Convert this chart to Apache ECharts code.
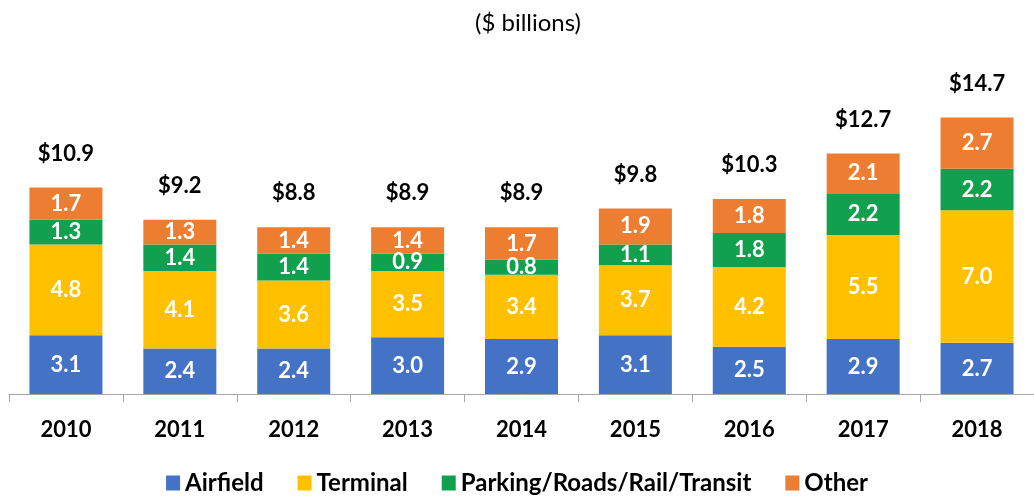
<!DOCTYPE html>
<html>
<head>
<meta charset="utf-8">
<script src="https://cdn.jsdelivr.net/npm/echarts@6/dist/echarts.min.js"></script>
<style>
  html, body { margin: 0; padding: 0; background: #fff; }
  #chart { width: 1034px; height: 498px; }
</style>
</head>
<body>
<div id="chart"></div>
<script>
// 数据
var years = ["2010", "2011", "2012", "2013", "2014", "2015", "2016", "2017", "2018"];
var airfield = [3.1, 2.4, 2.4, 3.0, 2.9, 3.1, 2.5, 2.9, 2.7];
var terminal = [4.8, 4.1, 3.6, 3.5, 3.4, 3.7, 4.2, 5.5, 7.0];
var parking = [1.3, 1.4, 1.4, 0.9, 0.8, 1.1, 1.8, 2.2, 2.2];
var other = [1.7, 1.3, 1.4, 1.4, 1.7, 1.9, 1.8, 2.1, 2.7];
var totals = ["$10.9", "$9.2", "$8.8", "$8.9", "$8.9", "$9.8", "$10.3", "$12.7", "$14.7"];

var font = "Lato";

function seg(name, data, color) {
  return {
    name: name,
    type: "bar",
    stack: "total",
    barWidth: 73,
    data: data,
    itemStyle: { color: color },
    label: {
      show: true,
      position: "inside",
      color: "#fff",
      fontFamily: font,
      fontWeight: "bold",
      fontSize: 22,
      formatter: function (p) { return p.value.toFixed(1); }
    }
  };
}

var chart = echarts.init(document.getElementById("chart"));
chart.setOption({
  animation: false,
  title: {
    text: "($ billions)",
    left: 470,
    top: 6,
    textStyle: { fontFamily: font, fontWeight: "normal", fontSize: 24, color: "#000" }
  },
  legend: {
    data: ["Airfield", "Terminal", "Parking/Roads/Rail/Transit", "Other"],
    top: 466,
    left: "center",
    icon: "rect",
    itemWidth: 14,
    itemHeight: 15,
    itemGap: 34,
    textStyle: { fontFamily: font, fontWeight: "bold", fontSize: 24, color: "#000" }
  },
  grid: { left: 9, width: 1032, top: 91, bottom: 104 },
  xAxis: {
    type: "category",
    data: years,
    axisLine: { lineStyle: { color: "#a6a6a6", width: 1 } },
    axisTick: { show: true, length: 8, lineStyle: { color: "#a6a6a6" } },
    axisLabel: { margin: 25, color: "#000", fontFamily: font, fontWeight: "bold", fontSize: 22 }
  },
  yAxis: { type: "value", min: 0, max: 16, show: false },
  series: [
    seg("Airfield", airfield, "#4472C4"),
    seg("Terminal", terminal, "#FFC000"),
    seg("Parking/Roads/Rail/Transit", parking, "#11A04E"),
    seg("Other", other, "#ED7D31"),
    {
      // 总数标签: 高度为 0 的堆叠柱
      name: "total",
      type: "bar",
      stack: "total",
      barWidth: 73,
      data: years.map(function () { return 0; }),
      itemStyle: { color: "transparent" },
      label: {
        show: true,
        position: "top",
        distance: 23,
        color: "#000",
        fontFamily: font,
        fontWeight: "bold",
        fontSize: 22,
        formatter: function (p) { return totals[p.dataIndex]; }
      }
    }
  ]
});
</script>
</body>
</html>
